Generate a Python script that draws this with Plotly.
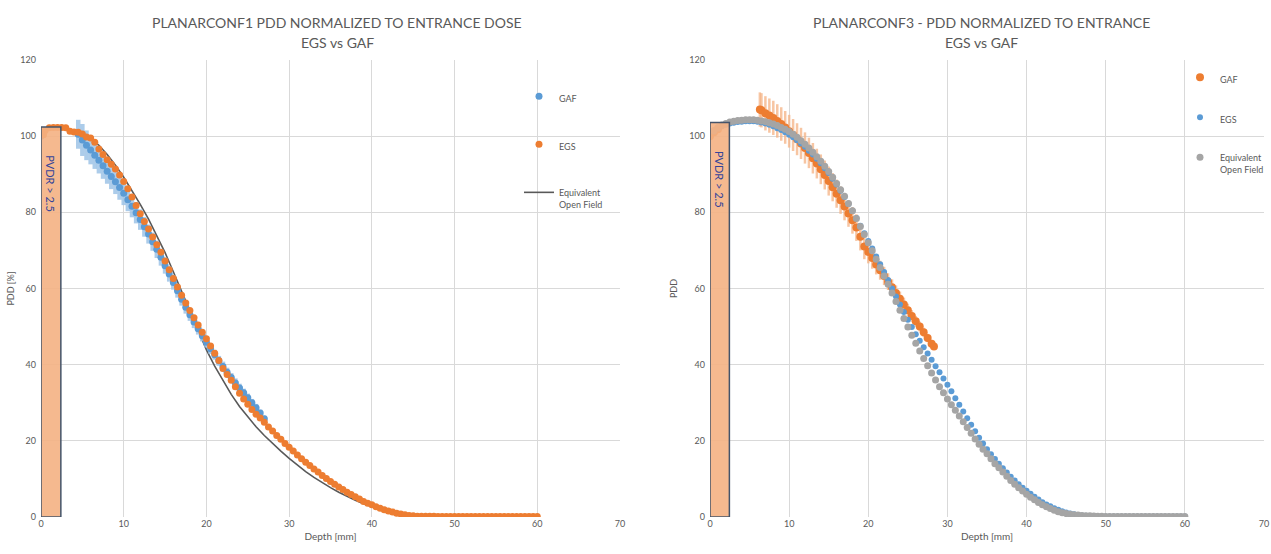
import plotly.graph_objects as go

# ---------------- LEFT CHART : PLANARCONF1 ----------------
L_EGS_DEPTH = [0.3, 0.5, 1, 1.5, 2, 2.5, 3, 3.5, 4, 4.5, 5, 5.5, 6, 6.5, 7, 7.5, 8, 8.5, 9, 9.5,
               10, 10.5, 11, 11.5, 12, 12.5, 13, 13.5, 14, 14.5, 15, 15.5, 16, 16.5, 17, 17.5, 18, 18.5, 19, 19.5,
               20, 20.5, 21, 21.5, 22, 22.5, 23, 23.5, 24, 24.5, 25, 25.5, 26, 26.5, 27, 27.5, 28, 28.5, 29, 29.5,
               30, 30.5, 31, 31.5, 32, 32.5, 33, 33.5, 34, 34.5, 35, 35.5, 36, 36.5, 37, 37.5, 38, 38.5, 39, 39.5,
               40, 40.5, 41, 41.5, 42, 42.5, 43, 43.5, 44, 44.5, 45, 45.5, 46, 46.5, 47, 47.5, 48, 48.5, 49, 49.5,
               50, 50.5, 51, 51.5, 52, 52.5, 53, 53.5, 54, 54.5, 55, 55.5, 56, 56.5, 57, 57.5, 58, 58.5, 59, 59.5, 60]
L_EGS_PDD = [100.4, 101.5, 102.2, 102.3, 102.3, 102.3, 102.2, 101.3, 101.1, 101.0,
             100.6, 99.8, 99.5, 98.4, 96.6, 95.2, 93.8, 92.6, 91.4, 89.8,
             88.1, 86.2, 84.0, 81.8, 79.6, 77.6, 75.6, 73.5, 71.5, 69.5,
             67.2, 64.9, 62.6, 60.4, 58.2, 56.2, 54.2, 52.3, 50.4, 48.5,
             46.8, 44.9, 43.0, 41.1, 39.0, 37.4, 35.9, 34.2, 32.5, 31.0,
             29.6, 28.2, 27.0, 26.0, 24.9, 23.6, 22.6, 21.4, 20.4, 19.3,
             18.3, 17.3, 16.3, 15.3, 14.4, 13.5, 12.6, 11.8, 10.9, 10.1,
             9.3, 8.6, 7.9, 7.2, 6.5, 5.9, 5.3, 4.7, 4.1, 3.6,
             3.2, 2.7, 2.3, 1.9, 1.6, 1.3, 1.0, 0.8, 0.6, 0.4,
             0.3, 0.2, 0.2, 0.2, 0.2, 0.2, 0.1, 0.1, 0.1, 0.1,
             0.1, 0.1, 0.1, 0.1, 0.1, 0.1, 0.1, 0.1, 0.1, 0.1,
             0.1, 0.1, 0.1, 0.1, 0.1, 0.1, 0.1, 0.1, 0.1, 0.1, 0.1]

L_GAF_DEPTH = [0, 4.5, 5, 5.5, 6, 6.5, 7, 7.5, 8, 8.5, 9, 9.5, 10, 10.5, 11, 11.5, 12, 12.5, 13, 13.5,
               14, 14.5, 15, 15.5, 16, 16.5, 17, 17.5, 18, 18.5, 19, 19.5, 20, 20.5, 21, 21.5, 22, 22.5,
               23, 23.5, 24, 24.5, 25, 25.5, 26, 26.5, 27]
L_GAF_PDD = [100.0, 100.5, 99.0, 97.6, 96.4, 95.0, 93.7, 92.2, 90.8, 89.4, 88.0, 86.5, 85.0, 83.3,
             81.6, 79.9, 78.1, 76.2, 74.3, 72.3, 70.3, 68.2, 66.0, 63.8, 61.6, 59.4, 57.2, 55.1,
             53.1, 51.2, 49.4, 47.6, 45.9, 44.2, 42.6, 41.0, 39.5, 38.0, 36.6, 35.2, 33.9, 32.6,
             31.3, 30.0, 28.7, 27.3, 25.8]
L_GAF_ERR = [0, 3.8, 4.2, 3.9, 3.8, 3.6, 3.5, 3.4, 3.3, 3.3, 3.2, 3.2, 3.1, 3.0,
             2.9, 2.8, 2.7, 2.6, 2.5, 2.4, 2.3, 2.2, 2.1, 2.0, 1.9, 1.8, 1.7, 1.7,
             1.6, 1.6, 1.5, 1.5, 1.4, 1.4, 1.3, 1.3, 1.3, 1.2, 1.2, 1.2, 1.1, 1.1,
             1.1, 1.0, 1.0, 0.9, 0.8]

L_OPEN_DEPTH = [0, 0.5, 1, 2, 3, 4, 5, 6, 7, 8, 9, 10, 11, 12, 13, 14, 15, 16, 17, 18, 19, 20,
                21, 22, 23, 24, 25, 26, 27, 28, 29, 30, 31, 32, 33, 34, 35, 36, 37, 38, 39, 40,
                41, 42, 43, 44, 45, 46, 50, 60]
L_OPEN_PDD = [100.0, 101.4, 102.0, 102.2, 102.0, 101.3, 100.6, 99.4, 97.6, 95.2, 92.4, 89.2,
              85.8, 82.1, 78.2, 74.0, 69.4, 64.4, 59.3, 54.0, 48.7, 43.9, 39.6, 35.7, 32.2,
              29.0, 26.2, 23.7, 21.4, 19.3, 17.3, 15.4, 13.6, 11.9, 10.4, 9.0, 7.7, 6.5, 5.4,
              4.4, 3.5, 2.7, 2.0, 1.4, 0.9, 0.5, 0.3, 0.2, 0.1, 0.1]

# ---------------- RIGHT CHART : PLANARCONF3 ----------------
R_DEPTH = [0.5, 1, 1.5, 2, 2.5, 3, 3.5, 4, 4.5, 5, 5.5, 6, 6.5, 7, 7.5, 8, 8.5, 9, 9.5, 10,
           10.5, 11, 11.5, 12, 12.5, 13, 13.5, 14, 14.5, 15, 15.5, 16, 16.5, 17, 17.5, 18, 18.5, 19, 19.5, 20,
           20.5, 21, 21.5, 22, 22.5, 23, 23.5, 24, 24.5, 25, 25.5, 26, 26.5, 27, 27.5, 28, 28.5, 29, 29.5, 30,
           30.5, 31, 31.5, 32, 32.5, 33, 33.5, 34, 34.5, 35, 35.5, 36, 36.5, 37, 37.5, 38, 38.5, 39, 39.5, 40,
           40.5, 41, 41.5, 42, 42.5, 43, 43.5, 44, 44.5, 45, 45.5, 46, 46.5, 47, 47.5, 48, 48.5, 49, 49.5, 50,
           50.5, 51, 51.5, 52, 52.5, 53, 53.5, 54, 54.5, 55, 55.5, 56, 56.5, 57, 57.5, 58, 58.5, 59, 59.5, 60]
R_OPEN_PDD = [101.5, 102.3, 102.9, 103.3, 103.7, 103.9, 104.1, 104.2, 104.3, 104.3,
              104.3, 104.2, 104.0, 103.8, 103.5, 103.2, 102.8, 102.3, 101.8, 101.2,
              100.5, 99.7, 98.8, 97.9, 96.9, 95.8, 94.6, 93.4, 92.1, 90.7,
              89.2, 87.6, 85.9, 84.2, 82.3, 80.4, 78.4, 76.3, 74.2, 72.0,
              69.9, 67.7, 65.5, 63.3, 61.1, 58.8, 56.6, 54.3, 52.1, 49.9,
              47.7, 45.6, 43.6, 41.6, 39.7, 37.8, 36.0, 34.2, 32.6, 31.0,
              29.5, 28.0, 26.5, 25.0, 23.5, 22.0, 20.5, 19.1, 17.8, 16.6,
              15.3, 14.0, 12.9, 11.8, 10.7, 9.6, 8.6, 7.7, 6.8, 6.0,
              5.2, 4.5, 3.8, 3.2, 2.7, 2.2, 1.8, 1.4, 1.1, 0.9,
              0.7, 0.6, 0.5, 0.4, 0.35, 0.3, 0.25, 0.2, 0.2, 0.15,
              0.1, 0.1, 0.1, 0.1, 0.1, 0.1, 0.1, 0.1, 0.1, 0.1,
              0.1, 0.1, 0.1, 0.1, 0.1, 0.1, 0.1, 0.1, 0.1, 0.1]
R_EGS_PDD = [101.2, 102.0, 102.6, 103.0, 103.3, 103.5, 103.7, 103.8, 103.9, 103.9,
             103.9, 103.8, 103.6, 103.3, 103.0, 102.6, 102.1, 101.6, 101.0, 100.4,
             99.7, 98.9, 98.1, 97.2, 96.2, 95.2, 94.1, 92.9, 91.6, 90.3,
             88.8, 87.3, 85.7, 84.0, 82.2, 80.4, 78.5, 76.5, 74.5, 72.5,
             70.5, 68.4, 66.4, 64.3, 62.2, 60.0, 57.9, 55.8, 53.8, 51.8,
             49.9, 48.0, 46.3, 44.6, 42.9, 41.3, 39.6, 38.0, 36.4, 34.7,
             33.0, 31.2, 29.5, 27.7, 25.9, 24.2, 22.5, 20.8, 19.3, 17.8,
             16.5, 15.2, 14.0, 12.8, 11.7, 10.6, 9.6, 8.6, 7.7, 6.9,
             6.1, 5.3, 4.6, 3.9, 3.3, 2.8, 2.3, 1.9, 1.5, 1.2,
             0.9, 0.7, 0.55, 0.4, 0.3, 0.25, 0.2, 0.15, 0.15, 0.1,
             0.1, 0.1, 0.1, 0.1, 0.1, 0.1, 0.1, 0.1, 0.1, 0.1,
             0.1, 0.1, 0.1, 0.1, 0.1, 0.1, 0.1, 0.1, 0.1, 0.1]

R_GAF_DEPTH = [0, 0.5, 1, 6.3, 6.5, 7, 7.5, 8, 8.5, 9, 9.5, 10, 10.5, 11, 11.5, 12, 12.5, 13, 13.5,
               14, 14.5, 15, 15.5, 16, 16.5, 17, 17.5, 18, 18.5, 19, 19.5, 20, 20.5, 21, 21.5,
               22, 22.5, 23, 23.5, 24, 24.5, 25, 25.5, 26, 26.5, 27, 27.5, 28, 28.3]
R_GAF_PDD = [100.0, 101.0, 101.8, 107.0, 106.8, 106.0, 105.4, 104.8, 104.0, 103.2, 102.3, 101.3,
             100.3, 99.2, 98.1, 96.9, 95.6, 94.2, 92.8, 91.3, 89.8, 88.2, 86.6, 84.9, 83.2,
             81.5, 79.7, 77.9, 76.0, 73.6, 71.0, 69.6, 68.0, 66.3, 64.8, 63.3, 61.8, 60.3,
             58.8, 57.3, 55.8, 54.3, 52.8, 51.4, 50.0, 48.5, 47.0, 45.5, 44.8]
R_GAF_ERR = [0, 0, 0, 4.5, 4.5, 4.5, 4.5, 4.5, 4.4, 4.4, 4.3, 4.3, 4.2, 4.2, 4.1, 4.1, 4.0,
             4.0, 3.9, 3.9, 3.8, 3.8, 3.7, 3.7, 3.6, 3.6, 3.5, 3.5, 3.5, 3.6, 3.3, 3.0, 2.8,
             2.6, 2.5, 2.4, 2.2, 2.1, 2.0, 1.9, 1.8, 1.7, 1.5, 1.4, 1.3, 1.2, 1.1, 1.0, 0.9]

X_TICKS = [0, 10, 20, 30, 40, 50, 60, 70]
Y_TICKS = [0, 20, 40, 60, 80, 100, 120]
PVDR_L = (2.4, 102.4)
PVDR_R = (2.45, 103.6)

assert len(L_EGS_DEPTH) == len(L_EGS_PDD)
assert len(L_GAF_DEPTH) == len(L_GAF_PDD) == len(L_GAF_ERR)
assert len(L_OPEN_DEPTH) == len(L_OPEN_PDD)
assert len(R_DEPTH) == len(R_OPEN_PDD) == len(R_EGS_PDD)
assert len(R_GAF_DEPTH) == len(R_GAF_PDD) == len(R_GAF_ERR)

ORANGE = "#ed7d31"
BLUE = "#5b9bd5"
GRAY = "#a5a5a5"
DARK = "#595959"
TXT = "#595959"
FONT = "Lato"

fig = go.Figure()

# left traces
fig.add_trace(go.Scatter(x=L_OPEN_DEPTH, y=L_OPEN_PDD, mode="lines", name="Equivalent<br>Open Field",
                         line=dict(color=DARK, width=1.6), xaxis="x", yaxis="y", legend="legend",
                         legendrank=3))
fig.add_trace(go.Scatter(x=L_GAF_DEPTH, y=L_GAF_PDD, mode="markers", name="GAF",
                         marker=dict(color=BLUE, size=7),
                         error_y=dict(type="data", array=L_GAF_ERR, color="rgba(157,195,230,0.85)",
                                      thickness=4.5, width=0),
                         xaxis="x", yaxis="y", legend="legend", legendrank=1))
fig.add_trace(go.Scatter(x=L_EGS_DEPTH, y=L_EGS_PDD, mode="markers", name="EGS",
                         marker=dict(color=ORANGE, size=7), xaxis="x", yaxis="y",
                         legend="legend", legendrank=2))

# right traces
fig.add_trace(go.Scatter(x=R_GAF_DEPTH, y=R_GAF_PDD, mode="markers", name="GAF",
                         marker=dict(color=ORANGE, size=8),
                         error_y=dict(type="data", array=R_GAF_ERR, color="rgba(244,177,131,0.75)",
                                      thickness=2.5, width=0),
                         xaxis="x2", yaxis="y2", legend="legend2", legendrank=1))
fig.add_trace(go.Scatter(x=R_DEPTH, y=R_EGS_PDD, mode="markers", name="EGS",
                         marker=dict(color=BLUE, size=6), xaxis="x2", yaxis="y2",
                         legend="legend2", legendrank=2))
fig.add_trace(go.Scatter(x=R_DEPTH, y=R_OPEN_PDD, mode="markers", name="Equivalent<br>Open Field",
                         marker=dict(color=GRAY, size=7), xaxis="x2", yaxis="y2",
                         legend="legend2", legendrank=3))

W, H = 1271, 554
def px(v):
    return v / W
def py(v):
    return (H - v) / H

axis_common = dict(showgrid=True, gridcolor="#d9d9d9", gridwidth=1, zeroline=False,
                   showline=False, ticks="", tickfont=dict(family=FONT, size=9, color=TXT),
                   fixedrange=True, automargin=False)
xcommon = dict(axis_common, range=[0, 70], tickvals=X_TICKS,
               title=dict(text="Depth [mm]", font=dict(family=FONT, size=10, color=TXT), standoff=4))
ycommon = dict(axis_common, range=[0, 120], tickvals=Y_TICKS, ticklabelstandoff=4)

fig.update_layout(
    width=W, height=H, margin=dict(l=0, r=0, t=0, b=0, autoexpand=False),
    paper_bgcolor="white", plot_bgcolor="white",
    font=dict(family=FONT, color=TXT),
    xaxis=dict(xcommon, domain=[px(41), px(620)], anchor="y"),
    yaxis=dict(ycommon, domain=[py(517), py(60)], anchor="x",
               title=dict(text="PDD [%]", font=dict(family=FONT, size=9, color=TXT), standoff=4)),
    xaxis2=dict(xcommon, domain=[px(710), px(1264)], anchor="y2"),
    yaxis2=dict(ycommon, domain=[py(517), py(60)], anchor="x2",
                title=dict(text="PDD", font=dict(family=FONT, size=9, color=TXT), standoff=10)),
    legend=dict(x=px(519), y=py(84), xanchor="left", yanchor="top", bgcolor="rgba(0,0,0,0)",
                font=dict(family=FONT, size=9, color=TXT), traceorder="grouped",
                tracegroupgap=29, valign="top", itemclick=False),
    legend2=dict(x=px(1180), y=py(65), xanchor="left", yanchor="top", bgcolor="rgba(0,0,0,0)",
                 font=dict(family=FONT, size=9, color=TXT), traceorder="grouped",
                 tracegroupgap=21, valign="top", itemclick=False),
    showlegend=True,
)
for i, tr in enumerate(fig.data):
    tr.legendgroup = f"g{i}"

# PVDR boxes
for xa, ya, (bx, by) in (("x", "y", PVDR_L), ("x2", "y2", PVDR_R)):
    fig.add_shape(type="rect", xref=xa, yref=ya, x0=0, x1=bx, y0=0, y1=by,
                  fillcolor="rgba(244,177,131,0.9)", line=dict(color="#44546a", width=1.5),
                  layer="above")
    fig.add_annotation(xref=xa, yref=ya, x=bx / 2, y=by - 7, text="PVDR > 2.5", textangle=90,
                       showarrow=False, yanchor="top", xanchor="center",
                       font=dict(family=FONT, size=11, color="#34449a"))

# titles
for cx, t1 in ((337, "PLANARCONF1 PDD NORMALIZED TO ENTRANCE DOSE"),
               (981, "PLANARCONF3 - PDD NORMALIZED TO ENTRANCE")):
    fig.add_annotation(xref="paper", yref="paper", x=px(cx), y=py(22), text=t1, showarrow=False,
                       xanchor="center", yanchor="middle", font=dict(family=FONT, size=14, color=TXT))
    fig.add_annotation(xref="paper", yref="paper", x=px(cx), y=py(43), text="EGS vs GAF", showarrow=False,
                       xanchor="center", yanchor="middle", font=dict(family=FONT, size=14, color=TXT))

fig.write_html("out.html")
